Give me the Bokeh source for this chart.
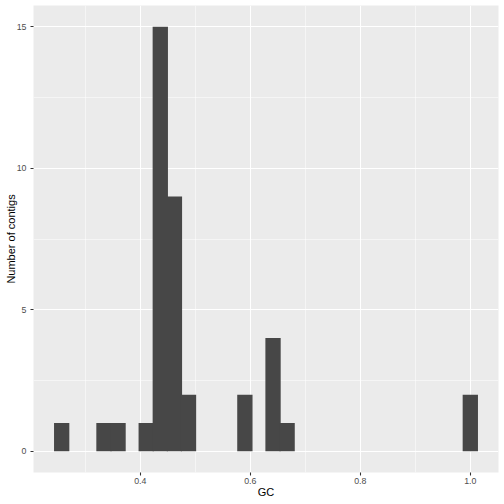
from bokeh.plotting import figure
from bokeh.models import FixedTicker, Range1d, ColumnDataSource, PrintfTickFormatter
from bokeh.embed import file_html
from bokeh.resources import INLINE

# Histogram data (30 bins, only non-empty bins listed)
bin_width = 0.02562
bin_centers = [0.2570, 0.3339, 0.3595, 0.4107, 0.4363, 0.4620, 0.4876, 0.5901, 0.6413, 0.6669, 1.0000]
counts = [1, 1, 1, 1, 15, 9, 2, 2, 4, 1, 2]
x_ticks = [0.4, 0.6, 0.8, 1.0]
x_minor = [0.3, 0.5, 0.7, 0.9]
y_ticks = [0, 5, 10, 15]
y_minor = [2.5, 7.5, 12.5]
x_title = "GC"
y_title = "Number of contigs"

seam = 0.0011  # small overlap so adjacent bars render without anti-alias seams
left = [c - bin_width / 2 - seam for c in bin_centers]
right = [c + bin_width / 2 + seam for c in bin_centers]
src = ColumnDataSource(dict(left=left, right=right, top=counts, bottom=[0] * len(counts)))

lo_edge = min(bin_centers) - bin_width / 2
hi_edge = max(bin_centers) + bin_width / 2
span = hi_edge - lo_edge
x0 = lo_edge - 0.05 * span
x1 = hi_edge + 0.05 * span
ymax = max(counts)
y0 = -0.05 * ymax
y1 = ymax * 1.05

p = figure(width=504, height=504, output_backend="svg", toolbar_location=None,
           x_range=Range1d(x0, x1), y_range=Range1d(y0, y1),
           min_border_left=33, min_border_right=6, min_border_top=5, min_border_bottom=32)
p.background_fill_color = "#EBEBEB"
p.border_fill_color = "white"
p.outline_line_color = None

BAR = "#474747"
p.quad(left="left", right="right", top="top", bottom="bottom", source=src,
       fill_color=BAR, line_color=None)

FONT = "Liberation Sans"
p.xaxis.ticker = FixedTicker(ticks=x_ticks, minor_ticks=x_minor)
p.yaxis.ticker = FixedTicker(ticks=y_ticks, minor_ticks=y_minor)
p.xaxis.formatter = PrintfTickFormatter(format="%.1f")
p.xaxis.axis_label = x_title
p.yaxis.axis_label = y_title
for ax in (p.xaxis[0], p.yaxis[0]):
    ax.axis_line_color = None
    ax.major_tick_line_color = "#333333"
    ax.major_tick_line_width = 1.07
    ax.major_tick_out = 3
    ax.major_tick_in = 0
    ax.minor_tick_line_color = None
    ax.major_label_text_font = FONT
    ax.major_label_text_font_size = "8.8px"
    ax.major_label_text_color = "#4D4D4D"
    ax.axis_label_text_font = FONT
    ax.axis_label_text_font_size = "11px"
    ax.axis_label_text_font_style = "normal"
    ax.axis_label_text_color = "black"
p.xaxis.major_label_standoff = 1
p.yaxis.major_label_standoff = 3
p.xaxis.axis_label_standoff = -1
p.yaxis.axis_label_standoff = -3

for g in (p.xgrid[0], p.ygrid[0]):
    g.grid_line_color = "white"
    g.grid_line_width = 1.07
    g.minor_grid_line_color = "white"
    g.minor_grid_line_width = 0.53

open("out.html", "w").write(file_html(p, INLINE))
